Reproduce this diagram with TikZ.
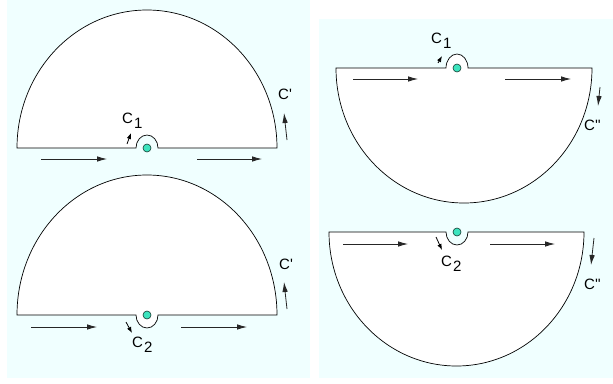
\documentclass[tikz,border=0pt]{standalone}
\usepackage{fontspec}
\newfontfamily\labfont{Liberation Sans}
\usetikzlibrary{arrows.meta}
\definecolor{panelbg}{RGB}{240,255,255}
\definecolor{dotfill}{RGB}{60,228,190}
\definecolor{dotline}{RGB}{20,60,50}
\tikzset{
  panel/.style={fill=panelbg, draw=none},
  region/.style={draw=black, line width=0.7pt, fill=white},
  flow/.style={draw=black!85, line width=0.8pt, -{Latex[length=10pt,width=5.5pt]}},
  small/.style={draw=black, line width=0.8pt, -{Latex[length=6pt,width=4.5pt]}},
  pole/.style={circle, draw=dotline, fill=dotfill, line width=0.6pt, minimum size=8pt, inner sep=0pt},
  lab/.style={font=\labfont\fontsize{15}{17}\selectfont, inner sep=0pt, anchor=base west},
}
\newcommand{\subl}[1]{\kern1pt\raisebox{-5pt}{#1}}
\begin{document}
\begin{tikzpicture}[x=1pt,y=1pt]
\useasboundingbox (0,0) rectangle (613,-383);
% panels
\fill[panel] (7,0) rectangle (310,-378);
\fill[panel] (319,-19) rectangle (613,-378);

% ---------- top-left ----------
\draw[region] (17,-148) -- (136,-148)
  arc[start angle=180, end angle=0, x radius=11, y radius=13]
  -- (277,-148)
  arc[start angle=0, end angle=180, x radius=130, y radius=138] -- cycle;
\node[pole] (p1) at (147,-148) {};
\draw[flow] (41,-159) -- (107,-159);
\draw[flow] (197,-159) -- (262,-159);
\draw[flow] (287,-140) -- (284,-113);
\draw[small] (127,-144) -- (131,-133);
\node[lab] (l1) at (122,-123) {C\subl{1}};
\node[lab] (l2) at (278,-99) {C'};

% ---------- bottom-left ----------
\draw[region] (17,-315) -- (136,-315)
  arc[start angle=180, end angle=360, x radius=11, y radius=13]
  -- (277,-315)
  arc[start angle=0, end angle=180, x radius=130, y radius=140] -- cycle;
\node[pole] (p2) at (147,-315) {};
\draw[flow] (31,-327) -- (97,-327);
\draw[flow] (181,-327) -- (247,-327);
\draw[flow] (287,-309) -- (284,-282);
\draw[small] (126,-322) -- (132,-333);
\node[lab] (l3) at (132,-347) {C\subl{2}};
\node[lab] (l4) at (279,-269) {C'};

% ---------- top-right ----------
\draw[region] (336,-68) -- (446,-68)
  arc[start angle=180, end angle=0, x radius=11, y radius=14]
  -- (592,-68)
  arc[start angle=0, end angle=-180, x radius=128, y radius=135] -- cycle;
\node[pole] (p3) at (457,-68) {};
\draw[flow] (353,-79) -- (418,-79);
\draw[flow] (505,-79) -- (571,-79);
\draw[flow] (600,-87) -- (598,-106);
\draw[small] (438,-63) -- (442,-56);
\node[lab] (l5) at (431,-43) {C\subl{1}};
\node[lab] (l6) at (584,-130) {C''};

% ---------- bottom-right ----------
\draw[region] (329,-232) -- (446,-232)
  arc[start angle=180, end angle=360, x radius=11, y radius=13]
  -- (584,-232)
  arc[start angle=0, end angle=-180, x radius=127.5, y radius=134] -- cycle;
\node[pole] (p4) at (457,-232) {};
\draw[flow] (343,-244) -- (408,-244);
\draw[flow] (490,-244) -- (555,-244);
\draw[flow] (594,-238) -- (591,-265);
\draw[small] (436,-237) -- (442,-250);
\node[lab] (l7) at (441,-266) {C\subl{2}};
\node[lab] (l8) at (584,-289) {C''};
\end{tikzpicture}
\end{document}
